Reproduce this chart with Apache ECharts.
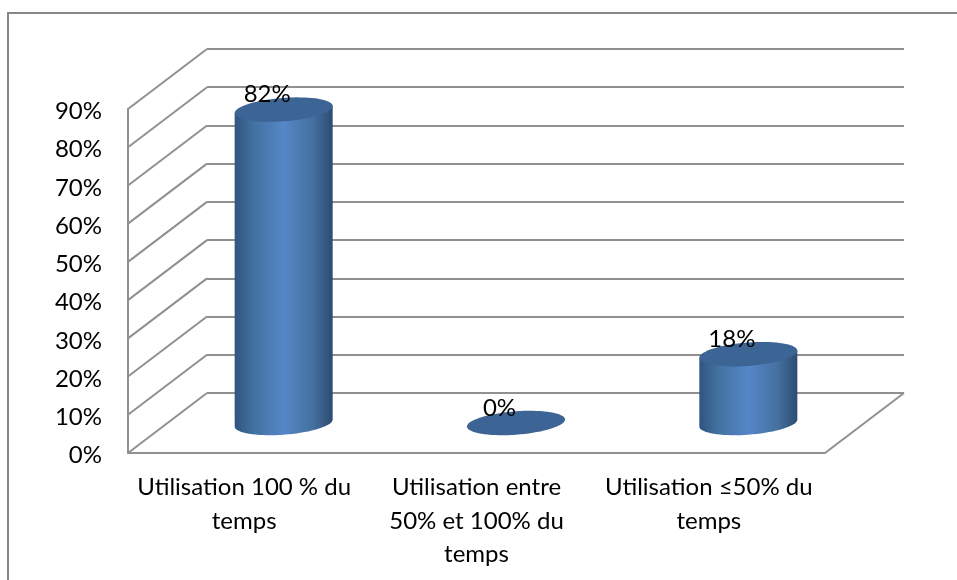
<!DOCTYPE html>
<html>
<head>
<meta charset="utf-8">
<style>
  html, body { margin: 0; padding: 0; background: #fff; }
  #chart { width: 957px; height: 580px; }
</style>
<script src="https://cdn.jsdelivr.net/npm/echarts@6/dist/echarts.min.js"></script>
</head>
<body>
<div id="chart"></div>
<script>
const categories = ['Utilisation 100 % du\ntemps', 'Utilisation entre\n50% et 100% du\ntemps', 'Utilisation ≤50% du\ntemps']
const values = [82, 0, 18]
const yTicks = [0, 10, 20, 30, 40, 50, 60, 70, 80, 90]

const font = 'Lato'
const fontSize = 24
const lineColor = '#909090'
// front plane and back wall of the fake 3d box
const front = { left: 128, top: 109, width: 697, height: 344 }
const back = { left: 207, top: 49, width: 697, height: 344 }
const depthX = back.left - front.left
const depthY = back.top - front.top

// cylinder outline, sheared ellipse
const rx = 49
const ry = 11.7
const tilt = 3.5
function ellipsePoint (cx, cy, t) {
  return [cx + rx * Math.cos(t), cy - tilt * Math.cos(t) + ry * Math.sin(t)]
}
function ellipse (cx, cy) {
  const pts = []
  for (let i = 0; i < 72; i++) {
    pts.push(ellipsePoint(cx, cy, i / 72 * Math.PI * 2))
  }
  return pts
}
function body (cx, topY, bottomY) {
  const pts = []
  for (let i = 0; i <= 36; i++) {
    pts.push(ellipsePoint(cx, bottomY, i / 36 * Math.PI))
  }
  pts.push(ellipsePoint(cx, topY, Math.PI))
  pts.push(ellipsePoint(cx, topY, 0))
  return pts
}

const chart = echarts.init(document.getElementById('chart'), null, { renderer: 'canvas' })

chart.setOption({
  animation: false,
  backgroundColor: '#fff',
  graphic: [{
    type: 'polyline',
    silent: true,
    shape: { points: [[8, 580], [8, 13], [957, 13]] },
    style: { stroke: '#868686', lineWidth: 2, fill: null }
  }],
  grid: [
    Object.assign({ containLabel: false }, back),
    Object.assign({ containLabel: false }, front)
  ],
  xAxis: [
    { gridIndex: 0, type: 'category', data: categories, show: false },
    {
      gridIndex: 1,
      type: 'category',
      data: categories,
      axisLine: { show: true, lineStyle: { color: lineColor, width: 2 } },
      axisTick: { show: false },
      axisLabel: {
        interval: 0,
        margin: 18,
        fontFamily: font,
        fontSize: fontSize,
        lineHeight: 33.5,
        color: '#000'
      }
    }
  ],
  yAxis: [
    {
      gridIndex: 0,
      type: 'value',
      min: 0,
      max: 90,
      interval: 10,
      axisLine: { show: false },
      axisTick: { show: false },
      axisLabel: { show: false },
      splitLine: { show: true, lineStyle: { color: lineColor, width: 2 } }
    },
    {
      gridIndex: 1,
      type: 'value',
      min: 0,
      max: 90,
      interval: 10,
      axisLine: { show: true, lineStyle: { color: lineColor, width: 2 } },
      axisTick: { show: false },
      splitLine: { show: false },
      axisLabel: {
        margin: 26,
        formatter: (v) => `{t|${v}%}`,
        rich: {
          t: {
            padding: [5, 0, 0, 0],
            fontFamily: font,
            fontSize: fontSize,
            color: '#000'
          }
        }
      }
    }
  ],
  series: [
    {
      // slanted lines joining front axis and back wall
      type: 'custom',
      xAxisIndex: 1,
      yAxisIndex: 1,
      data: yTicks.map((v) => [0, v]),
      z: 2,
      silent: true,
      renderItem: (params, api) => {
        const y = api.coord([0, api.value(1)])[1]
        const x = params.coordSys.x
        const lines = [{
          type: 'line',
          shape: { x1: x, y1: y, x2: x + depthX, y2: y + depthY },
          style: { stroke: lineColor, lineWidth: 2 }
        }]
        if (api.value(1) === 0) {
          const xEnd = x + params.coordSys.width
          lines.push({
            type: 'line',
            shape: { x1: xEnd, y1: y, x2: xEnd + depthX, y2: y + depthY },
            style: { stroke: lineColor, lineWidth: 2 }
          })
        }
        return { type: 'group', children: lines }
      }
    },
    {
      // the cylinders, standing half way into the box
      type: 'custom',
      xAxisIndex: 1,
      yAxisIndex: 1,
      data: values.map((v, i) => [i, v]),
      z: 3,
      silent: true,
      renderItem: (params, api) => {
        const top = api.coord([api.value(0), api.value(1)])
        const base = api.coord([api.value(0), 0])
        const cx = top[0] + depthX / 2
        const topY = top[1] + depthY / 2
        const bottomY = base[1] + depthY / 2
        const children = []
        if (api.value(1) > 0) {
          children.push({
            type: 'polygon',
            shape: { points: body(cx, topY, bottomY) },
            style: {
              fill: new echarts.graphic.LinearGradient(0, 0, 1, 0, [
                { offset: 0, color: '#2f5480' },
                { offset: 0.18, color: '#41709f' },
                { offset: 0.5, color: '#5587c8' },
                { offset: 0.8, color: '#44719f' },
                { offset: 1, color: '#2d4b72' }
              ])
            }
          })
        }
        children.push({
          type: 'polygon',
          shape: { points: ellipse(cx, topY) },
          style: { fill: '#3c6494' }
        })
        children.push({
          type: 'text',
          style: {
            text: api.value(1) + '%',
            x: cx - 16.5,
            y: topY - 15,
            align: 'center',
            verticalAlign: 'middle',
            fontFamily: font,
            fontSize: fontSize,
            fill: '#000'
          }
        })
        return { type: 'group', children: children }
      }
    }
  ]
})
</script>
</body>
</html>
